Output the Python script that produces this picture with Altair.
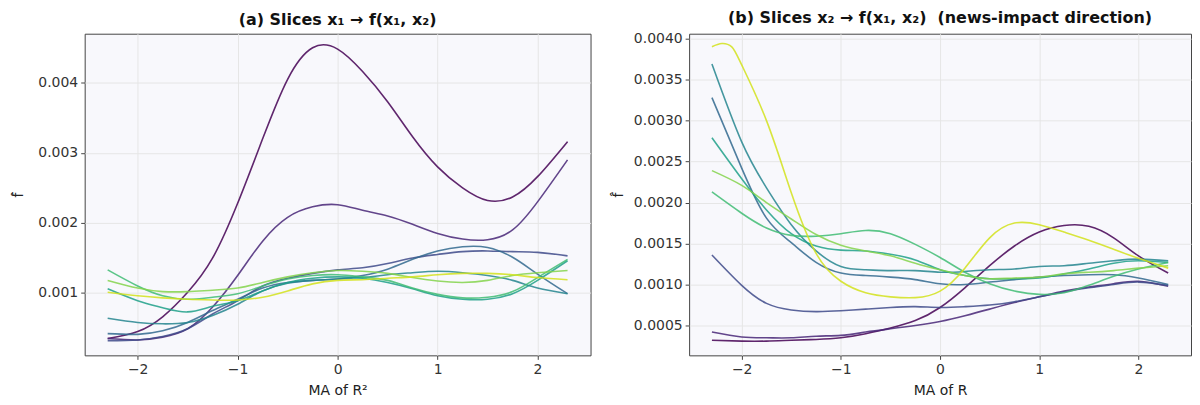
import altair as alt
import pandas as pd

# shared x grid (MA value) for the slices
X = [-2.3, -2.0, -1.75, -1.5, -1.25, -1.0, -0.75, -0.5, -0.25, 0.0,
     0.25, 0.5, 0.75, 1.0, 1.25, 1.5, 1.75, 2.0, 2.3]

# panel (a): slices x1 -> f(x1, x2)
A0 = [0.00035, 0.00045, 0.00066, 0.00101, 0.0015, 0.00228, 0.0032, 0.00405, 0.0045, 0.00448,
      0.00416, 0.00373, 0.00323, 0.0028, 0.0025, 0.00232, 0.00237, 0.00266, 0.00316]
A1 = [0.00035, 0.00033, 0.00037, 0.00049, 0.0008, 0.00125, 0.00174, 0.00208, 0.00223, 0.00226,
      0.00218, 0.0021, 0.00198, 0.00185, 0.00177, 0.00176, 0.0019, 0.0023, 0.0029]
A2 = [0.00032, 0.00033, 0.00038, 0.00049, 0.0007, 0.00089, 0.0011, 0.00121, 0.00128, 0.00133,
      0.00136, 0.00142, 0.0015, 0.00155, 0.00159, 0.0016, 0.00159, 0.00158, 0.00153]
A3 = [0.00042, 0.00041, 0.00046, 0.00058, 0.00075, 0.00091, 0.00107, 0.00115, 0.00118, 0.0012,
      0.00125, 0.00134, 0.00148, 0.0016, 0.00166, 0.00165, 0.00151, 0.00127, 0.00099]
A4 = [0.00064, 0.00058, 0.00056, 0.00058, 0.00068, 0.00084, 0.00103, 0.00114, 0.00118, 0.0012,
      0.00122, 0.00126, 0.00129, 0.00131, 0.00129, 0.00125, 0.00118, 0.00107, 0.00099]
A5 = [0.00106, 0.00089, 0.00079, 0.00073, 0.00081, 0.00089, 0.00103, 0.00115, 0.00121, 0.00123,
      0.00121, 0.00115, 0.00106, 0.00096, 0.00091, 0.00091, 0.00099, 0.00118, 0.00146]
A6 = [0.00133, 0.0011, 0.00096, 0.00091, 0.00094, 0.00099, 0.0011, 0.0012, 0.00125, 0.00126,
      0.00123, 0.00118, 0.00107, 0.00098, 0.00093, 0.00094, 0.00102, 0.00122, 0.00148]
A7 = [0.00118, 0.00107, 0.00102, 0.00102, 0.00104, 0.00107, 0.00115, 0.00123, 0.00129, 0.00132,
      0.00131, 0.00128, 0.00122, 0.00117, 0.00115, 0.00118, 0.00125, 0.00129, 0.00132]
A8 = [0.00101, 0.00096, 0.00093, 0.00091, 0.0009, 0.0009, 0.00094, 0.00103, 0.00113, 0.00118,
      0.00119, 0.00121, 0.00123, 0.00126, 0.00128, 0.00128, 0.00126, 0.00122, 0.00119]

# panel (b): slices x2 -> f(x1, x2)
B0 = [0.00032, 0.00031, 0.00031, 0.00032, 0.00033, 0.00035, 0.0004, 0.00047, 0.00056, 0.00072,
      0.00096, 0.00123, 0.00147, 0.00164, 0.00172, 0.00171, 0.00157, 0.00135, 0.00114]
B1 = [0.00042, 0.00036, 0.00035, 0.00035, 0.00037, 0.00038, 0.00042, 0.00046, 0.0005, 0.00055,
      0.00062, 0.0007, 0.00078, 0.00085, 0.00092, 0.00097, 0.00101, 0.00104, 0.00098]
B2 = [0.00136, 0.00099, 0.00077, 0.00069, 0.00067, 0.00068, 0.0007, 0.00072, 0.00073, 0.00072,
      0.00073, 0.00075, 0.00079, 0.00085, 0.00091, 0.00096, 0.001, 0.00103, 0.00099]
B3 = [0.00328, 0.00242, 0.00181, 0.00151, 0.00127, 0.00114, 0.00111, 0.00109, 0.00106, 0.00101,
      0.001, 0.00103, 0.00106, 0.00109, 0.00111, 0.00112, 0.00112, 0.00108, 0.001]
B4 = [0.00369, 0.00274, 0.00218, 0.00173, 0.00141, 0.00122, 0.00118, 0.00117, 0.00117, 0.00115,
      0.00116, 0.00118, 0.00119, 0.00122, 0.00123, 0.00126, 0.00129, 0.00131, 0.00129]
B5 = [0.00279, 0.00229, 0.00191, 0.00162, 0.00147, 0.00142, 0.00141, 0.00137, 0.0013, 0.00118,
      0.00111, 0.00107, 0.00107, 0.00108, 0.00113, 0.00119, 0.00126, 0.00129, 0.00127]
B6 = [0.00213, 0.00187, 0.00169, 0.0016, 0.00159, 0.00162, 0.00166, 0.00162, 0.00149, 0.00133,
      0.00115, 0.00101, 0.00092, 0.00088, 0.0009, 0.00099, 0.0011, 0.00119, 0.00127]
B7 = [0.00239, 0.00221, 0.002, 0.0018, 0.00161, 0.00148, 0.00141, 0.00135, 0.00126, 0.00118,
      0.00111, 0.00107, 0.00108, 0.00109, 0.00113, 0.00115, 0.00117, 0.0012, 0.00123]
XB8 = [-2.3, -2.2, -2.1, -2.0, -1.75, -1.5, -1.25, -1.0, -0.75, -0.5, -0.25, 0.0,
       0.25, 0.5, 0.75, 1.0, 1.25, 1.5, 1.75, 2.0, 2.3]
B8 = [0.0039, 0.00394, 0.0039, 0.00368, 0.003, 0.00212, 0.00138, 0.00104, 0.0009, 0.00085, 0.00084, 0.00092,
      0.0012, 0.00157, 0.00175, 0.00173, 0.00164, 0.00154, 0.00143, 0.00132, 0.0012]

COLORS = ["#440154", "#482677", "#3e4a89", "#31688e", "#25858e",
          "#1fa088", "#3fbc73", "#84d44b", "#d2e21b"]
NAMES = [f"s{i}" for i in range(9)]

FONT = "DejaVu Sans"


def table(series):
    rows = []
    for name, xs, ys in series:
        for xv, yv in zip(xs, ys):
            rows.append({"s": name, "x": xv, "y": yv})
    return pd.DataFrame(rows)


def panel(df, title, xtitle, ydomain, yticks, yfmt, width, ytitlepad):
    return alt.Chart(df).mark_line(
        strokeWidth=1.6, opacity=0.85, interpolate="natural"
    ).encode(
        x=alt.X("x:Q",
                scale=alt.Scale(domain=[-2.53, 2.53], nice=False, zero=False),
                axis=alt.Axis(values=[-2, -1, 0, 1, 2], format="d", title=xtitle)),
        y=alt.Y("y:Q",
                scale=alt.Scale(domain=ydomain, nice=False, zero=False),
                axis=alt.Axis(values=yticks, format=yfmt, title="f\u0302",
                              titlePadding=ytitlepad)),
        color=alt.Color("s:N", scale=alt.Scale(domain=NAMES, range=COLORS), legend=None),
    ).properties(
        width=width, height=323,
        title=alt.TitleParams(title, font=FONT, fontSize=16, fontWeight="bold",
                              anchor="middle", color="#111", offset=6),
    )


seriesA = [(NAMES[i], X, s) for i, s in enumerate([A0, A1, A2, A3, A4, A5, A6, A7, A8])]
seriesB = [(NAMES[i], X, s) for i, s in enumerate([B0, B1, B2, B3, B4, B5, B6, B7])]
seriesB.append((NAMES[8], XB8, B8))

left = panel(table(seriesA), "(a) Slices x\u2081 \u2192 f(x\u2081, x\u2082)", "MA of R\u00b2",
             [0.00011, 0.0047], [0.001, 0.002, 0.003, 0.004], ".3f", 508, 12)
right = panel(table(seriesB),
              "(b) Slices x\u2082 \u2192 f(x\u2081, x\u2082) \u00a0(news-impact direction)", "MA of R",
              [0.000136, 0.00406],
              [0.0005, 0.001, 0.0015, 0.002, 0.0025, 0.003, 0.0035, 0.004], ".4f", 504, 8)

chart = alt.hconcat(left, right, spacing=19).properties(
    padding={"left": 3, "top": 0, "right": 0, "bottom": 0}
).configure_axis(
    labelFont=FONT, labelFontSize=14, labelColor="#333",
    titleFont=FONT, titleFontSize=14, titleColor="#222", titleFontWeight="normal",
    tickColor="#444", tickSize=4, labelPadding=3, titlePadding=7,
    domain=False, gridColor="#e6e6e6", gridWidth=1,
).configure_view(
    fill="#f8f8fc", stroke="#444", strokeWidth=1,
)

chart.save("out.html", embed_options={"renderer": "svg", "actions": False})
